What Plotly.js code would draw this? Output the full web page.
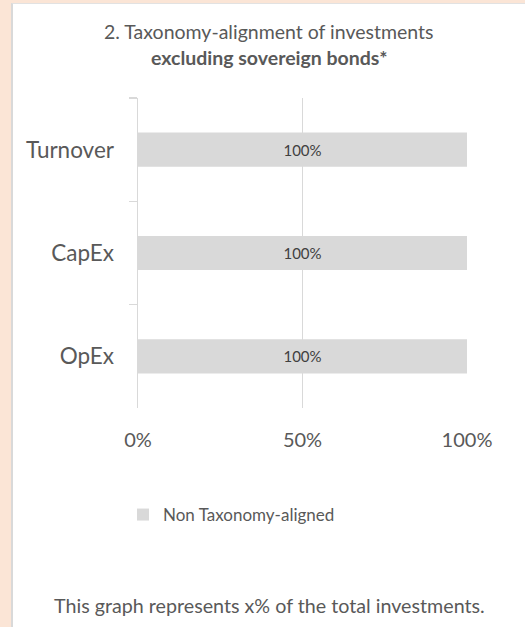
<!DOCTYPE html>
<html>
<head>
<meta charset="utf-8">
<script src="https://cdn.plot.ly/plotly-3.0.1.min.js"></script>
<style>
  html, body { margin:0; padding:0; width:525px; height:627px; overflow:hidden; background:#FBE5D6; }
  #panel { position:absolute; left:11px; top:3px; width:600px; height:700px; background:#ffffff;
           border-left:2px solid #d9d9d9; border-top:1px solid #e2e2e2; }
  #chart { position:absolute; left:0; top:0; width:525px; height:627px; }
</style>
</head>
<body>
<div id="panel"></div>
<div id="chart"></div>
<script>
// ---- data ----
const categories = ['Turnover', 'CapEx', 'OpEx'];
const nonAlignedShare = [1, 1, 1];
const seriesName = 'Non Taxonomy-aligned';
const xTickValues = [0, 0.5, 1];
const xTickLabels = ['0%', '50%', '100%'];
const titleLine1 = '2. Taxonomy-alignment of investments';
const titleLine2 = 'excluding sovereign bonds*';
const footnote = 'This graph represents x% of the total investments.';

// ---- layout geometry ----
const W = 525, H = 627;
const L = 138, R = 58, T = 98, B = 219;
const plotW = W - L - R, plotH = H - T - B;
const px = x => (x - L) / plotW;          // pixel -> paper x
const py = y => (H - B - y) / plotH;      // pixel -> paper y

const FONT = 'Lato, "Open Sans", sans-serif';
const TXT = '#595959';
const GRID = '#d9d9d9';

const trace = {
  type: 'bar',
  orientation: 'h',
  y: categories,
  x: nonAlignedShare,
  name: seriesName,
  marker: { color: '#d9d9d9', line: { width: 0 } },
  texttemplate: '%{x:.0%}',
  textposition: 'inside',
  insidetextanchor: 'middle',
  insidetextfont: { family: FONT, size: 15, color: '#404040' },
  constraintext: 'none',
  showlegend: true,
  hoverinfo: 'skip'
};

const layout = {
  width: W, height: H,
  margin: { l: L, r: R, t: T, b: B, pad: 0 },
  paper_bgcolor: 'rgba(0,0,0,0)',
  plot_bgcolor: 'rgba(0,0,0,0)',
  font: { family: FONT, color: TXT },
  bargap: 0.67,
  xaxis: {
    range: [0, 1],
    tickvals: xTickValues,
    ticktext: xTickLabels,
    showgrid: true, gridcolor: GRID, gridwidth: 1.3,
    zeroline: false, showline: false, ticks: '',
    ticklabelstandoff: 18,
    tickfont: { family: FONT, size: 20, color: TXT },
    fixedrange: true
  },
  yaxis: {
    type: 'category',
    autorange: 'reversed',
    showline: true, linecolor: GRID, linewidth: 1.5,
    ticks: 'outside', ticklen: 8, tickcolor: GRID, tickwidth: 1.5,
    tickson: 'boundaries',
    showgrid: false, zeroline: false,
    ticklabelstandoff: 18,
    tickfont: { family: FONT, size: 22.5, color: TXT },
    fixedrange: true
  },
  showlegend: true,
  legend: {
    orientation: 'h',
    xref: 'container', yref: 'container',
    x: 123 / W, xanchor: 'left',
    y: 1 - 515 / H, yanchor: 'middle',
    font: { family: FONT, size: 17, color: TXT },
    bgcolor: 'rgba(0,0,0,0)'
  },
  annotations: [
    { text: titleLine1, xref: 'paper', yref: 'paper', x: px(268), y: py(31),
      xanchor: 'center', yanchor: 'middle', showarrow: false,
      font: { family: FONT, size: 19.5, color: TXT } },
    { text: '<b>' + titleLine2 + '</b>', xref: 'paper', yref: 'paper', x: px(269), y: py(58),
      xanchor: 'center', yanchor: 'middle', showarrow: false,
      font: { family: FONT, size: 19.5, color: TXT } },
    { text: footnote, xref: 'paper', yref: 'paper', x: px(269), y: py(605),
      xanchor: 'center', yanchor: 'middle', showarrow: false,
      font: { family: FONT, size: 19.7, color: TXT } }
  ]
};

Plotly.newPlot('chart', [trace], layout, { displayModeBar: false, staticPlot: true });
</script>
</body>
</html>
